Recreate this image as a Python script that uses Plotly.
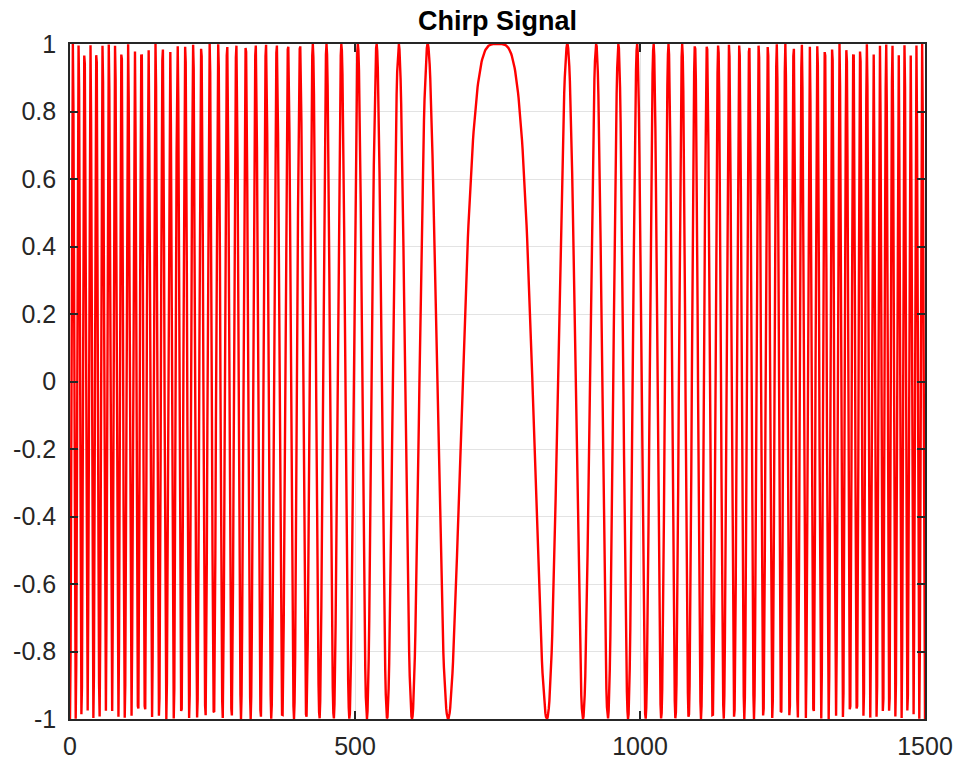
import numpy as np
import plotly.graph_objects as go

# Linear-FM (quadratic phase) chirp, symmetric about the centre sample
sample_index = np.arange(0, 1501)
center_sample = 750
phase_scale = 7500  # phase = pi * (n - center)^2 / phase_scale

chirp = np.cos(np.pi * (sample_index - center_sample) ** 2 / phase_scale)

x_tick_vals = [0, 500, 1000, 1500]
x_tick_text = ["0", "500", "1000", "1500"]
y_tick_vals = [-1, -0.8, -0.6, -0.4, -0.2, 0, 0.2, 0.4, 0.6, 0.8, 1]
y_tick_text = ["-1", "-0.8", "-0.6", "-0.4", "-0.2", "0", "0.2", "0.4", "0.6", "0.8", "1"]

axis_color = "#262626"
grid_color = "#e3e3e3"
font_family = "Liberation Sans, Arial, Helvetica, sans-serif"

fig = go.Figure()
fig.add_trace(go.Scatter(
    x=sample_index,
    y=chirp,
    mode="lines",
    line=dict(color="#ff0000", width=2.4),
    hoverinfo="skip",
    showlegend=False,
))

axis_common = dict(
    showline=True,
    linecolor=axis_color,
    linewidth=1.6,
    mirror="allticks",
    ticks="inside",
    ticklen=8,
    tickwidth=1.5,
    tickcolor=axis_color,
    showgrid=True,
    gridcolor=grid_color,
    gridwidth=1,
    zeroline=False,
    automargin=False,
    tickfont=dict(family=font_family, size=25, color=axis_color),
)

fig.update_xaxes(
    range=[0, 1500],
    tickmode="array",
    tickvals=x_tick_vals,
    ticktext=x_tick_text,
    ticklabelstandoff=4,
    **axis_common,
)
fig.update_yaxes(
    range=[-1, 1],
    tickmode="array",
    tickvals=y_tick_vals,
    ticktext=y_tick_text,
    ticklabelstandoff=7,
    **axis_common,
)

fig.update_layout(
    width=959,
    height=763,
    margin=dict(l=70, r=34, t=44, b=44),
    paper_bgcolor="white",
    plot_bgcolor="white",
    title=dict(
        text="<b>Chirp Signal</b>",
        x=0.5,
        xref="paper",
        xanchor="center",
        y=1 - 21 / 763,
        yref="container",
        yanchor="middle",
        font=dict(family=font_family, size=27, color="#000000"),
    ),
)

fig.write_html("out.html")
